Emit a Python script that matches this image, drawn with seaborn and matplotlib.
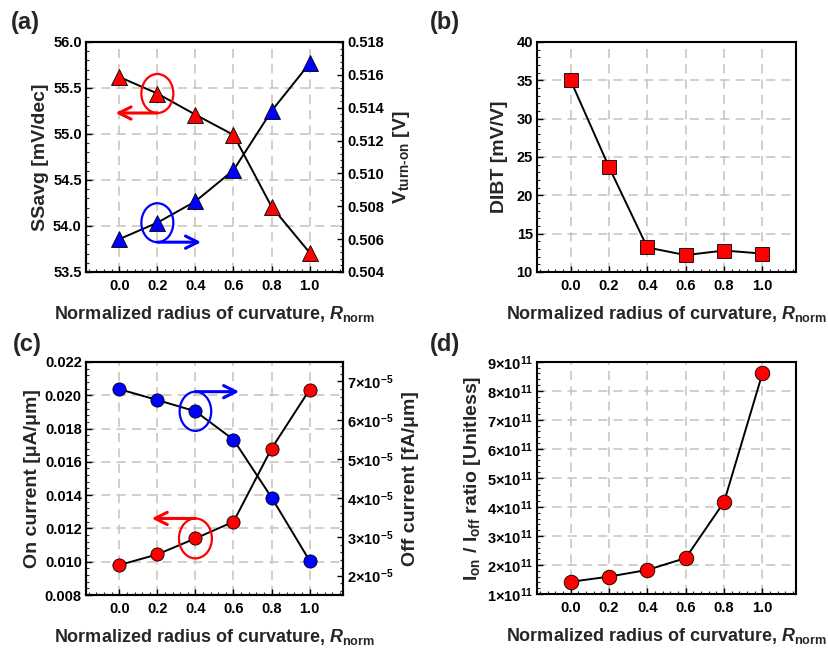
import seaborn as sns
import matplotlib.pyplot as plt
from matplotlib.patches import Ellipse
from matplotlib.ticker import AutoMinorLocator, FuncFormatter, MultipleLocator

# values
r_norm = [0.0, 0.2, 0.4, 0.6, 0.8, 1.0]
ss_avg = [55.62, 55.44, 55.21, 54.99, 54.21, 53.71]
v_turn_on = [0.5060, 0.5070, 0.5083, 0.5102, 0.5138, 0.5167]
dibt = [35.0, 23.7, 13.2, 12.2, 12.8, 12.4]
on_current = [0.0098, 0.01044, 0.0114, 0.0124, 0.0168, 0.02034]
off_current = [6.80e-5, 6.52e-5, 6.23e-5, 5.50e-5, 4.01e-5, 2.38e-5]
on_off_ratio = [1.42e11, 1.60e11, 1.83e11, 2.24e11, 4.17e11, 8.60e11]

x_ticks = [0.0, 0.2, 0.4, 0.6, 0.8, 1.0]
x_label = r'Normalized radius of curvature, $\mathit{R}_{\mathrm{norm}}$'

sns.set_style('ticks')
plt.rcParams['font.family'] = ['Liberation Sans', 'DejaVu Sans']
plt.rcParams['font.weight'] = 'bold'
plt.rcParams['axes.labelweight'] = 'bold'
plt.rcParams['mathtext.fontset'] = 'custom'
plt.rcParams['mathtext.rm'] = 'Liberation Sans:bold'
plt.rcParams['mathtext.it'] = 'Liberation Sans:bold:italic'
plt.rcParams['mathtext.bf'] = 'Liberation Sans:bold'
plt.rcParams['mathtext.default'] = 'rm'

RED = '#ff0000'
BLUE = '#0000ff'
GRID = '#c9c1b6'


def style_axes(ax, grid=True):
    for s in ax.spines.values():
        s.set_linewidth(1.5)
        s.set_color('black')
    ax.tick_params(which='major', direction='in', length=4, width=1, labelsize=10.5, pad=3, colors='black')
    ax.tick_params(which='minor', direction='in', length=2.5, width=0.8)
    ax.yaxis.set_minor_locator(AutoMinorLocator(5))
    if grid:
        ax.set_xlim(-0.175, 1.175)
        ax.set_xticks(x_ticks)
        ax.xaxis.set_major_formatter(FuncFormatter(lambda v, p: f'{v:.1f}'))
        ax.xaxis.set_minor_locator(AutoMinorLocator(5))
        ax.tick_params(axis='x', pad=5)
        ax.grid(True, color=GRID, linestyle=(0, (6, 4)), linewidth=1.1)
        ax.set_axisbelow(True)
        ax.set_xlabel(x_label, fontsize=13, labelpad=8)


def curve(ax, y, marker, face, size):
    sns.lineplot(x=r_norm, y=y, ax=ax, color='black', linewidth=1.4, marker=marker,
                 markersize=size, markerfacecolor=face, markeredgecolor='black',
                 markeredgewidth=0.6, clip_on=False)


def pointer(ax, x, y, w, h, color, x_tip, top):
    ax.add_patch(Ellipse((x, y), w, h, fill=False, edgecolor=color, linewidth=1.6, zorder=5))
    y_line = y + h / 2 if top else y - h / 2
    ax.annotate('', xy=(x_tip, y_line), xytext=(x, y_line),
                arrowprops=dict(arrowstyle='->', color=color, lw=2.2, mutation_scale=22,
                                shrinkA=0, shrinkB=0), zorder=5)


fig = plt.figure(figsize=(8.29, 6.51), dpi=100)

# (a)
ax_a = fig.add_axes([0.1037, 0.5822, 0.310, 0.3533])
style_axes(ax_a)
curve(ax_a, ss_avg, '^', RED, 11.5)
ax_a.set_ylim(53.5, 56.0)
ax_a.yaxis.set_major_locator(MultipleLocator(0.5))
ax_a.yaxis.set_major_formatter(FuncFormatter(lambda v, p: f'{v:.1f}'))
ax_a.set_ylabel('SSavg [mV/dec]', fontsize=14, labelpad=3)
ax_a2 = ax_a.twinx()
style_axes(ax_a2, grid=False)
curve(ax_a2, v_turn_on, '^', BLUE, 11.5)
ax_a2.set_ylim(0.504, 0.518)
ax_a2.yaxis.set_major_locator(MultipleLocator(0.002))
ax_a2.yaxis.set_major_formatter(FuncFormatter(lambda v, p: f'{v:.3f}'))
ax_a2.set_ylabel(r'V$_{\text{turn-on}}$ [V]', fontsize=14, labelpad=5)
pointer(ax_a, r_norm[1], ss_avg[1], 0.168, 0.424, RED, -0.02, top=False)
pointer(ax_a2, r_norm[1], v_turn_on[1], 0.168, 0.00237, BLUE, 0.43, top=False)

# (b)
ax_b = fig.add_axes([0.6478, 0.5822, 0.3124, 0.3533])
style_axes(ax_b)
curve(ax_b, dibt, 's', RED, 10)
ax_b.set_ylim(10, 40)
ax_b.yaxis.set_major_locator(MultipleLocator(5))
ax_b.set_ylabel('DIBT [mV/V]', fontsize=14, labelpad=6)

# (c)
ax_c = fig.add_axes([0.1037, 0.0860, 0.310, 0.358])
style_axes(ax_c)
curve(ax_c, on_current, 'o', RED, 9.5)
ax_c.set_ylim(0.008, 0.022)
ax_c.yaxis.set_major_locator(MultipleLocator(0.002))
ax_c.yaxis.set_major_formatter(FuncFormatter(lambda v, p: f'{v:.3f}'))
ax_c.set_ylabel('On current [μA/μm]', fontsize=14, labelpad=3)
ax_c2 = ax_c.twinx()
style_axes(ax_c2, grid=False)
curve(ax_c2, off_current, 'o', BLUE, 9.5)
ax_c2.set_ylim(1.5e-5, 7.5e-5)
ax_c2.yaxis.set_major_locator(MultipleLocator(1e-5))
ax_c2.yaxis.set_major_formatter(FuncFormatter(lambda v, p: rf'${v / 1e-5:.0f}{{\times}}10^{{-5}}$'))
ax_c2.set_ylabel('Off current [fA/μm]', fontsize=14, labelpad=6)
pointer(ax_c2, r_norm[2], off_current[2], 0.166, 1.01e-5, BLUE, 0.63, top=True)
pointer(ax_c, r_norm[2], on_current[2], 0.173, 0.0024, RED, 0.17, top=True)

# (d)
ax_d = fig.add_axes([0.6478, 0.0875, 0.3124, 0.3568])
style_axes(ax_d)
curve(ax_d, on_off_ratio, 'o', RED, 10.5)
ax_d.set_ylim(1e11, 9e11)
ax_d.yaxis.set_major_locator(MultipleLocator(1e11))
ax_d.yaxis.set_major_formatter(FuncFormatter(lambda v, p: rf'${v / 1e11:.0f}{{\times}}10^{{11}}$'))
ax_d.set_ylabel(r'I$_{\mathrm{on}}$ / I$_{\mathrm{off}}$ ratio [Unitless]', fontsize=14, labelpad=3)

for lab, (px, py) in zip(['(a)', '(b)', '(c)', '(d)'], [(25, 22), (445, 22), (27, 345), (445, 345)]):
    fig.text(px / 829, 1 - py / 651, lab, fontsize=17, fontweight='bold', ha='center', va='center')

fig.savefig('out.png', dpi=100)
